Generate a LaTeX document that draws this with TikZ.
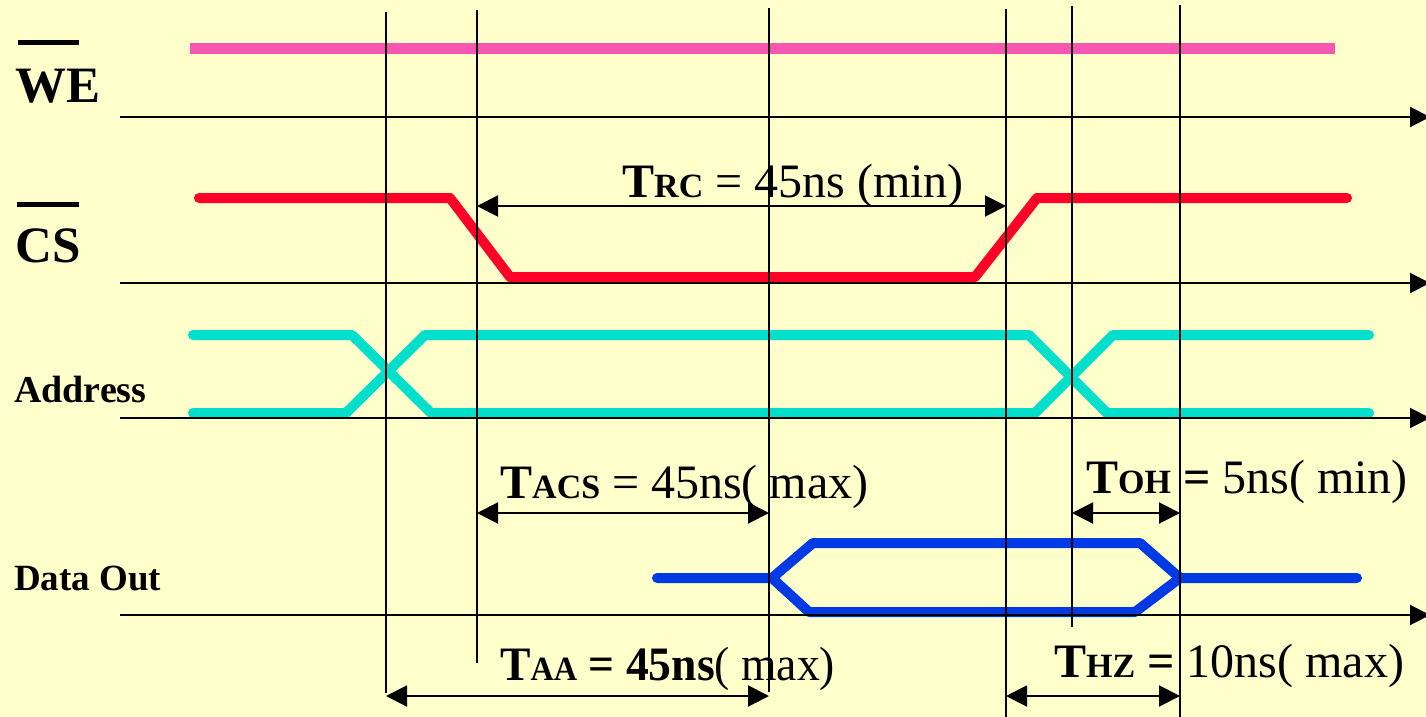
\documentclass[tikz,border=0pt]{standalone}
\usepackage{fontspec}
\setmainfont{Liberation Serif}
\usetikzlibrary{arrows.meta}
\definecolor{bgyel}{RGB}{255,255,204}
\definecolor{wepink}{RGB}{247,87,176}
\definecolor{csred}{RGB}{255,0,40}
\definecolor{adcyan}{RGB}{0,222,204}
\definecolor{doblue}{RGB}{0,58,228}
\newcommand{\labfont}{\fontsize{48}{50}\selectfont}
\newcommand{\tsub}[1]{{\bfseries\fontsize{48}{50}\selectfont T\fontsize{34}{36}\selectfont #1}}
\begin{document}
\begin{tikzpicture}[x=1pt,y=-1pt,
  axisline/.style={line width=2pt,-{Triangle[length=20pt,width=20pt]}},
  gridline/.style={line width=2pt},
  dimline/.style={line width=2pt,{Triangle[length=21pt,width=21pt]}-{Triangle[length=21pt,width=21pt]}},
  sigline/.style={line width=10pt,line cap=round,line join=round},
  siglab/.style={anchor=base west,inner sep=0pt,font=\bfseries},
  tlab/.style={anchor=base west,inner sep=0pt,font=\labfont}]
\fill[bgyel] (0,0) rectangle (1426,717);
\useasboundingbox (0,0) rectangle (1426,717);

% signal labels
\node[siglab,font=\bfseries\fontsize{51}{53}\selectfont] (we) at (15,102) {WE};
\node[siglab,font=\bfseries\fontsize{51}{53}\selectfont] (cs) at (15,262) {CS};
\node[siglab,font=\bfseries\fontsize{38}{40}\selectfont] (addr) at (14,402) {Address};
\node[siglab,font=\bfseries\fontsize{37}{39}\selectfont] (dout) at (14,590) {Data Out};
\draw[line width=4.5pt] (18,42.5) -- (79,42.5);
\draw[line width=4.5pt] (17,204.5) -- (79,204.5);

% signals
\draw[wepink,line width=11pt] (190,48.5) -- (1335,48.5);
\draw[csred,sigline] (199,198) -- (450,198) -- (510,277) -- (975,277) -- (1037,198) -- (1347,198);
\draw[adcyan,sigline] (193,335) -- (352,335) -- (431,413) -- (1035,413) -- (1113,335) -- (1369,335);
\draw[adcyan,sigline] (193,413) -- (346,413) -- (425,335) -- (1029,335) -- (1107,413) -- (1369,413);
\draw[doblue,sigline] (657,578) -- (772,578) -- (813,543) -- (1140,543) -- (1180,578) -- (1357,578);
\draw[doblue,sigline] (772,578) -- (809,612) -- (1135,612) -- (1180,578);

% timing labels
\node[tlab] (trc) at (622,197) {\tsub{RC}\labfont\ = 45ns (min)};
\node[tlab] (tacs) at (500,498) {\tsub{ACS}\labfont\ = 45ns( max)};
\node[tlab] (taa) at (500,680) {\scalebox{0.95}[1]{\tsub{AA}\labfont\ \textbf{= 45ns}( max)}};
\node[tlab] (toh) at (1086,493) {\tsub{OH}\labfont\ \textbf{=} 5ns( min)};
\node[tlab] (thz) at (1054,677) {\tsub{HZ}\labfont\ \textbf{=} 10ns( max)};

% vertical time markers
\coordinate (v1t) at (386,12);  \coordinate (v1b) at (386,693);
\coordinate (v2t) at (477,10);  \coordinate (v2b) at (477,663);
\coordinate (v3t) at (769,8);   \coordinate (v3b) at (769,692);
\coordinate (v4t) at (1006,9);  \coordinate (v4b) at (1006,717);
\coordinate (v5t) at (1072,6);  \coordinate (v5b) at (1072,627);
\coordinate (v6t) at (1180,5);  \coordinate (v6b) at (1180,717);
\draw[gridline] (v1t) -- (v1b);
\draw[gridline] (v2t) -- (v2b);
\draw[gridline] (v3t) -- (v3b);
\draw[gridline] (v4t) -- (v4b);
\draw[gridline] (v5t) -- (v5b);
\draw[gridline] (v6t) -- (v6b);

% time axes
\coordinate (a1s) at (120,117); \coordinate (a1e) at (1430,117);
\coordinate (a2s) at (120,283); \coordinate (a2e) at (1430,283);
\coordinate (a3s) at (120,418); \coordinate (a3e) at (1430,418);
\coordinate (a4s) at (120,615); \coordinate (a4e) at (1430,615);
\draw[axisline] (a1s) -- (a1e);
\draw[axisline] (a2s) -- (a2e);
\draw[axisline] (a3s) -- (a3e);
\draw[axisline] (a4s) -- (a4e);

% dimension arrows
\coordinate (rcl) at (477,206);  \coordinate (rcr) at (1006,206);
\coordinate (acl) at (477,513);  \coordinate (acr) at (769,513);
\coordinate (aal) at (386,696);  \coordinate (aar) at (769,696);
\coordinate (ohl) at (1072,513); \coordinate (ohr) at (1180,513);
\coordinate (hzl) at (1006,696); \coordinate (hzr) at (1180,696);
\draw[dimline] (rcl) -- (rcr);
\draw[dimline] (acl) -- (acr);
\draw[dimline] (aal) -- (aar);
\draw[dimline] (ohl) -- (ohr);
\draw[dimline] (hzl) -- (hzr);
\end{tikzpicture}
\end{document}
